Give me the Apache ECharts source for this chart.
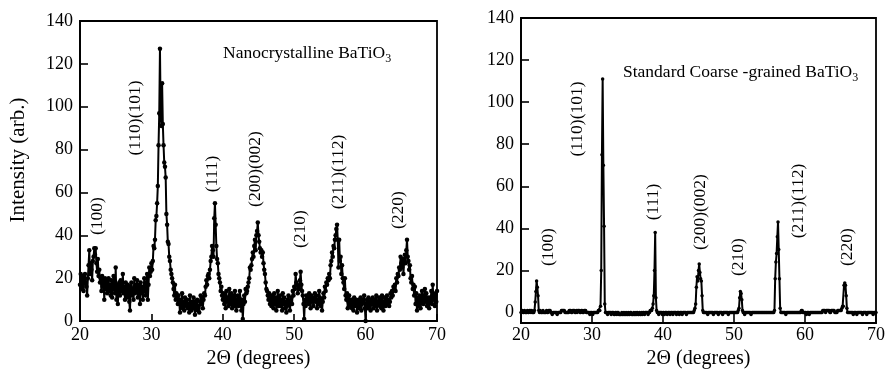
<!DOCTYPE html>
<html><head><meta charset="utf-8">
<script src="https://cdn.jsdelivr.net/npm/echarts@6/dist/echarts.min.js"></script>
<style>html,body{margin:0;padding:0;background:#fff}#c{width:888px;height:374px}</style>
</head><body><div id="c"></div>
<script>
// 2-theta start and step of both scans (degrees)
const scanStart = 20;
const scanStep = 0.1;
const xTicks = [20, 30, 40, 50, 60, 70];
const yTicks = [0, 20, 40, 60, 80, 100, 120, 140];
const peakLabels = ['(100)', '(110)(101)', '(111)', '(200)(002)', '(210)', '(211)(112)', '(220)'];

// Nanocrystalline BaTiO3 intensity, 20.0 .. 70.0 step 0.1
const nanoIntensity = [
17,22,15,20,21,14,19,22,18,16,
12,20,26,33,22,27,24,19,28,30,
34,31,34,27,23,29,21,24,18,20,
14,21,16,19,10,20,15,18,13,19,
20,14,17,12,19,11,16,21,15,13,
25,10,17,8,16,18,12,19,14,15,
22,13,16,10,18,14,11,17,15,9,
5,16,18,12,15,10,20,13,17,14,
19,11,15,17,8,18,13,16,10,14,
20,15,12,18,22,10,17,25,21,23,
27,24,28,35,34,38,47,49,55,63,
82,97,127,96,91,111,92,82,74,72,
67,50,45,37,36,30,28,24,22,20,
18,15,12,17,10,13,11,8,12,9,
4,10,7,13,6,9,5,11,8,7,
10,6,8,4,12,7,5,9,6,11,
8,3,9,6,10,5,7,4,9,12,
8,11,6,10,13,12,16,19,17,21,
22,20,24,28,30,35,33,30,48,55,
45,35,29,27,22,20,18,14,16,12,
10,13,8,12,6,14,9,11,7,15,
11,8,13,6,12,9,7,14,10,5,
9,12,7,11,14,8,5,10,1,8,
12,9,15,13,14,16,18,20,25,24,
26,29,32,30,35,38,33,40,42,46,
40,37,34,32,33,30,32,27,24,22,
18,15,14,12,10,13,8,11,7,12,
9,6,13,8,11,5,10,14,7,9,
12,7,10,5,13,8,11,6,9,4,
7,10,12,8,5,9,11,8,14,12,
16,15,22,18,17,13,16,15,19,23,
17,14,12,8,1,10,7,12,9,11,
8,13,10,6,12,9,11,7,10,13,
9,12,6,10,8,14,11,7,10,5,
9,13,11,16,14,18,17,20,19,22,
20,26,28,32,30,35,34,38,40,43,
45,38,25,38,28,30,22,26,20,18,
15,20,12,10,13,6,9,12,8,7,
10,6,9,5,11,7,8,10,4,9,
6,10,7,11,5,8,10,9,12,6,
0,8,10,6,11,7,9,5,10,8,
11,6,9,7,10,12,5,9,8,11,
7,10,6,12,8,5,9,11,7,10,
12,8,10,7,9,13,11,14,12,16,
15,17,14,20,18,22,21,25,24,30,
27,25,29,22,28,31,27,33,38,30,
28,24,26,20,18,21,15,17,12,16,
8,13,5,11,7,10,12,6,9,14,
12,8,10,15,9,13,7,11,10,6,
11,9,14,8,17,10,12,7,13,9,
14
];

// Standard coarse-grained BaTiO3 intensity, 20.0 .. 70.0 step 0.1
const coarseIntensity = [
0,0,1,0,0,1,0,0,0,1,
0,0,1,1,0,1,0,0,0,1,
5,10,15,12,8,1,0,1,0,0,
0,1,0,0,0,0,1,0,0,1,
1,1,0,0,-1,0,0,0,0,0,
0,-1,0,0,0,0,0,1,1,1,
1,1,0,0,0,0,0,0,1,1,
1,0,0,1,1,1,0,0,1,0,
1,1,1,0,0,1,1,0,0,1,
1,1,0,0,0,0,0,-1,0,0,
0,-1,0,0,0,0,0,0,0,1,
1,1,3,20,75,111,70,41,4,0,
0,0,-1,0,0,0,0,-1,0,0,
0,-1,-1,0,0,-1,0,0,-1,-1,
-1,-1,0,-1,-1,0,-1,-1,0,-1,
-1,0,-1,-1,0,0,-1,-1,-1,0,
-1,-1,0,-1,0,-1,-1,0,-1,-1,
0,-1,0,0,-1,0,0,0,0,-1,
0,0,1,1,1,2,4,8,20,38,
7,1,0,0,-1,0,0,0,0,-1,
0,0,-1,0,0,0,-1,0,0,0,
-1,0,0,0,-1,0,0,0,0,-1,
0,0,0,-1,0,0,0,-1,0,0,
0,0,0,-1,0,0,0,0,0,0,
0,0,0,0,1,2,4,12,17,15,
20,23,19,16,15,8,1,0,0,0,
0,0,0,-1,0,0,0,0,0,0,
0,-1,0,0,0,0,0,0,-1,0,
0,0,0,0,-1,0,0,0,0,0,
0,0,-1,0,0,0,0,0,0,0,
0,0,0,0,0,0,1,2,7,10,
9,6,1,0,0,-1,0,0,0,0,
0,0,0,0,-1,0,0,0,0,0,
0,0,0,0,0,0,0,0,0,0,
0,0,0,0,0,0,0,0,0,0,
0,0,0,0,0,0,0,1,16,24,
28,36,43,30,16,2,0,0,0,0,
0,0,0,-1,0,0,0,0,0,0,
0,0,0,0,0,0,0,0,0,0,
0,0,0,0,0,1,1,0,0,0,
0,0,-1,0,0,0,-1,0,0,0,
0,0,0,0,0,0,0,0,0,0,
0,0,0,0,0,1,1,1,1,0,
1,1,1,1,1,0,0,1,1,1,
1,1,0,0,0,0,1,1,1,1,
1,1,2,3,3,13,14,13,8,2,
0,0,0,0,0,0,0,0,-1,0,
0,0,0,-1,0,0,0,0,0,0,
0,-1,0,0,0,0,0,-1,0,0,
0,0,0,0,0,0,-1,0,0,0,
0
];

const toPairs = arr => arr.map((v, i) => [+(scanStart + i * scanStep).toFixed(1), v]);

const FONT = '"Liberation Serif", "DejaVu Serif", serif';
const black = '#000';

function xAxisCfg(gridIndex, tickLen) {
  return {
    gridIndex, type: 'value', min: 20, max: 70, interval: 10,
    name: '2Θ (degrees)', nameLocation: 'middle', nameGap: 26,
    nameTextStyle: { fontFamily: FONT, fontSize: 20, color: black },
    axisLine: { show: true, onZero: false, lineStyle: { color: black, width: 1.8 } },
    axisTick: { show: true, inside: true, length: tickLen, lineStyle: { color: black, width: 1.6 } },
    axisLabel: { fontFamily: FONT, fontSize: 18, color: black, margin: 5,
      customValues: xTicks },
    splitLine: { show: false }
  };
}

function yAxisCfg(gridIndex, min) {
  return {
    gridIndex, type: 'value', min: min, max: 140,
    axisLine: { show: true, onZero: false, lineStyle: { color: black, width: 1.8 } },
    axisTick: { show: true, inside: true, length: 8, lineStyle: { color: black, width: 1.6 },
      customValues: yTicks },
    axisLabel: { fontFamily: FONT, fontSize: 18, color: black, margin: 7,
      customValues: yTicks },
    splitLine: { show: false }
  };
}

function rotText(x, y, txt, size) {
  return {
    type: 'text', x: x, y: y, rotation: Math.PI / 2,
    style: { text: txt, fontFamily: FONT, fontSize: size, fill: black,
      align: 'center', verticalAlign: 'middle' }
  };
}

const chart = echarts.init(document.getElementById('c'), null, { renderer: 'canvas' });
const xR = xAxisCfg(1, 10);
xR.nameGap = 23;
xR.axisLabel.margin = 3;

const leftPos = [[97, 216], [135, 118], [212, 174], [255, 169], [300, 229], [338, 172], [398, 210]];
const rightPos = [[548, 247], [577, 119], [653, 202], [700, 212], [738, 257], [798, 201], [847, 247]];

const graphics = [];
peakLabels.forEach((t, i) => {
  graphics.push(rotText(leftPos[i][0], leftPos[i][1], t, 17.5));
  graphics.push(rotText(rightPos[i][0], rightPos[i][1], t, 17.5));
});
graphics.push(rotText(18, 160, 'Intensity (arb.)', 21));
graphics.push({
  type: 'text', x: 223, y: 53,
  style: { text: 'Nanocrystalline BaTiO{s|3}', fontFamily: FONT, fontSize: 17.5, fill: black,
    verticalAlign: 'middle',
    rich: { s: { fontFamily: FONT, fontSize: 12, fill: black, padding: [11, 0, 0, 0] } } }
});
graphics.push({
  type: 'text', x: 623, y: 72,
  style: { text: 'Standard Coarse -grained BaTiO{s|3}', fontFamily: FONT, fontSize: 17.5, fill: black,
    verticalAlign: 'middle',
    rich: { s: { fontFamily: FONT, fontSize: 12, fill: black, padding: [11, 0, 0, 0] } } }
});

chart.setOption({
  animation: false,
  backgroundColor: '#fff',
  grid: [
    { left: 80, top: 21, width: 357, height: 304, show: true, borderColor: black, borderWidth: 1.8, backgroundColor: 'transparent' },
    { left: 521, top: 18, width: 357, height: 305, show: true, borderColor: black, borderWidth: 1.8, backgroundColor: 'transparent' }
  ],
  xAxis: [xAxisCfg(0, 7), xR],
  yAxis: [yAxisCfg(0, 0), yAxisCfg(1, -5)],
  series: [
    { type: 'line', xAxisIndex: 0, yAxisIndex: 0, data: toPairs(nanoIntensity),
      symbol: 'circle', symbolSize: 4.5, showSymbol: true,
      lineStyle: { color: black, width: 2 }, itemStyle: { color: black } },
    { type: 'line', xAxisIndex: 1, yAxisIndex: 1, data: toPairs(coarseIntensity),
      symbol: 'circle', symbolSize: 3.5, showSymbol: true,
      lineStyle: { color: black, width: 2 }, itemStyle: { color: black } }
  ],
  graphic: graphics
});
</script>
</body></html>
